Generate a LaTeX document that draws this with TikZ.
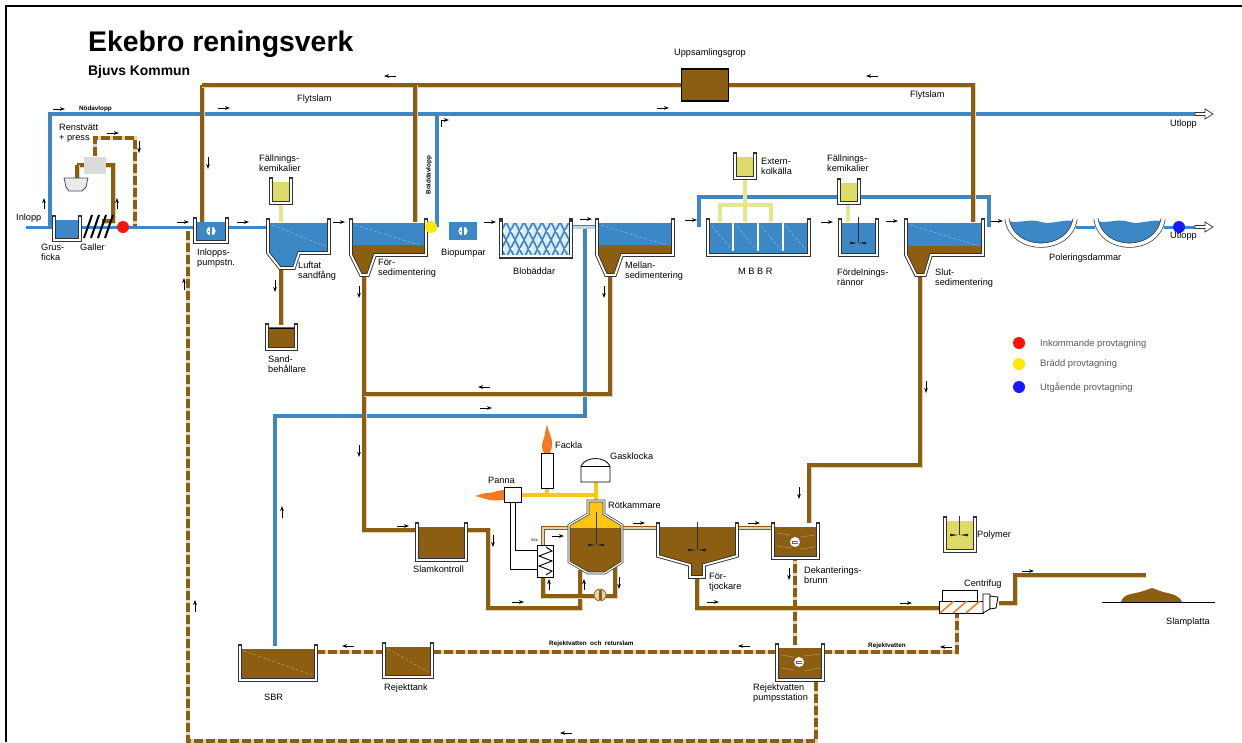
\documentclass[tikz,border=0pt]{standalone}
\usepackage{fontspec}
\setmainfont{Liberation Sans}
\usetikzlibrary{arrows.meta}
\definecolor{wblue}{HTML}{3C88C6}
\definecolor{lblue}{HTML}{BBD6EC}
\definecolor{sbrown}{HTML}{8C5E12}
\definecolor{tanl}{HTML}{E2D2B2}
\definecolor{cyel}{HTML}{DEDA68}
\definecolor{pyel}{HTML}{E8E68C}
\definecolor{gasy}{HTML}{FFC613}
\definecolor{flam}{HTML}{F07B22}
\tikzset{
 lbl/.style={font=\fontsize{9.2}{10}\selectfont,inner sep=0pt,anchor=west,align=left,text=black},
 tiny/.style={font=\fontsize{6.3}{7}\bfseries\selectfont,inner sep=0pt,anchor=west},
 legend/.style={font=\fontsize{9.4}{10}\selectfont,inner sep=0pt,anchor=west,text=black!65},
 bluepipe/.style={draw=wblue,line width=4pt,line join=miter},
 brownpipe/.style={draw=sbrown,line width=4pt,line join=miter,preaction={draw=tanl,line width=5pt}},
 dashpipe/.style={draw=sbrown,line width=4.4pt,dash pattern=on 9pt off 3pt,preaction={draw=tanl,solid,line width=4.4pt}},
 mainthin/.style={draw=wblue,line width=0.8pt,double=white,double distance=1.2pt},
 mainwide/.style={draw=wblue,line width=0.8pt,double=lblue,double distance=3pt},
 mainsolid/.style={draw=wblue,line width=3pt},
 tandouble/.style={draw=sbrown,line width=0.9pt,double=tanl,double distance=1.4pt},
 yelpipe/.style={draw=pyel,line width=4.8pt},
 gaspipe/.style={draw=gasy,line width=4pt},
 wire/.style={draw=black,line width=0.8pt},
 wallout/.style={draw=black!80,line width=3.6pt,line cap=rect,line join=miter},
 wallin/.style={draw=white,line width=1.8pt,line join=miter},
 flowar/.style={draw=black,line width=0.8pt,-{Stealth[length=5pt,width=3.6pt]}},
 outar/.style={draw=black!80,fill=white,line width=0.7pt},
 tankbox/.style={inner sep=0pt,outer sep=0pt,draw=none},
 dot/.style={circle,inner sep=0pt,minimum size=12pt,draw=none},
 hatchw/.style={draw=white,opacity=.45,line width=0.4pt,dash pattern=on 3pt off 2pt},
 mottle/.style={draw=tanl,opacity=.35,line width=0.8pt},
}
\newcommand\lab[5][lbl]{\node[#1] (#2) at (#3,#4) {#5};}
\newcommand\far[4]{\draw[flowar] (#1,#2) -- (#3,#4);}
\newcommand\vbx[5]{\node[tankbox,minimum width={(#4-#2)*1pt},minimum height={(#5-#3)*1pt}] (#1) at ({(#2+#4)/2},{(#3+#5)/2}) {};}
\newcommand\vessel[4]{%
 \begin{scope}\clip #1 -- cycle;
 \fill[#2] (0,#3) rectangle (1242,800);
 \fill[sbrown] (0,#4) rectangle (1242,800);
 \end{scope}
 \draw[wallout] #1; \draw[wallin] #1;}
\newcommand\tank[7]{\vbx{#1}{#2}{#3}{#4}{#5}\vessel{(#2,#3) -- (#2,#5) -- (#4,#5) -- (#4,#3)}{#6}{#3+3}{#7}}
\newcommand\hop[9]{\vbx{#1}{#2}{#3}{#4}{#5}\hopB{#2}{#3}{#4}{#5}{#6}{#7}{#8}{#9}}
\newcommand\hopB[8]{\def\hA{#1}\def\hB{#2}\def\hC{#3}\def\hD{#4}\def\hE{#5}\def\hF{#6}\def\hG{#7}\def\hH{#8}\hopC}
\newcommand\hopC[1]{\vessel{(\hA,\hB) -- (\hA,\hD) -- (\hE,\hH) -- (\hF,\hH) -- (\hG,\hD) -- (\hC,\hD) -- (\hC,\hB)}{wblue}{\hB+3}{#1}
 \draw[hatchw] ({\hA+4},{\hB+5}) -- ({\hC-4},{\hB+26});}
\newcommand\pumpW[2]{\fill[white] (#1,#2) circle (4.6pt);\fill[wblue] (#1-.7,#2-5) rectangle (#1+.7,#2+5);\draw[wblue,line width=.5pt] (#1-1.8,#2) -- (#1-3,#2);}
\newcommand\pumpB[2]{\fill[white] (#1,#2) circle (5pt);\fill[sbrown] (#1-3,#2-1) rectangle (#1+3,#2+2);\fill[white] (#1-2.5,#2+.3) rectangle (#1+2.5,#2+.9);}
\newcommand\mixer[4]{\draw[black!80,line width=.8pt] (#1,#2) -- (#1,#3);
 \fill[black!85] (#1-1,#3) -- (#1-#4,#3-1.3) -- (#1-#4,#3+1.3) -- cycle; \fill[black!85] (#1+1,#3) -- (#1+#4,#3-1.3) -- (#1+#4,#3+1.3) -- cycle;}
\begin{document}
\begin{tikzpicture}[x=1pt,y=-1pt,line cap=butt]
\useasboundingbox (0,0) rectangle (1242,742);
\fill[white] (0,0) rectangle (1242,742);
\draw[black,line width=2pt] (6,742) -- (6,5.5) -- (1242,5.5);
\node[inner sep=0pt,anchor=west,font=\fontsize{28.4}{30}\bfseries\selectfont] (title) at (88,44) {Ekebro reningsverk};
\node[inner sep=0pt,anchor=west,font=\fontsize{13.9}{14}\bfseries\selectfont] (subtitle) at (88,72) {Bjuvs Kommun};

% waypoints
\coordinate (in0) at (26,227); \coordinate (ovTee) at (50,227); \coordinate (ov1) at (50,114); \coordinate (ovEnd) at (1195,114);
\coordinate (brTee) at (437,227); \coordinate (brTop) at (437,114);
\coordinate (tl) at (202,85); \coordinate (tm) at (415,85); \coordinate (tr) at (973,85);
\coordinate (blTee) at (585,229); \coordinate (bl1) at (585,416); \coordinate (bl2) at (275,416);
\coordinate (bpA) at (699,227); \coordinate (bpB) at (699,197); \coordinate (bpC) at (989,197); \coordinate (bpD) at (989,227);
\coordinate (msA) at (610,394); \coordinate (fsA) at (364,394); \coordinate (fsB) at (364,530);
\coordinate (skA) at (488,530); \coordinate (skB) at (488,608); \coordinate (skC) at (580,608);
\coordinate (rkA) at (615,596); \coordinate (rkB) at (543,596);
\coordinate (ssA) at (920,465); \coordinate (ssB) at (809,465);
\coordinate (ftA) at (697,608); \coordinate (ctIn) at (940,608);
\coordinate (cOut) at (999,603); \coordinate (c1) at (1015,603); \coordinate (c2) at (1015,575); \coordinate (c3) at (1146,575);
\coordinate (rjA) at (957,652); \coordinate (rtop) at (795,645);
\coordinate (dashA) at (188,231); \coordinate (dashB) at (188,741); \coordinate (dashC) at (816,741);
\coordinate (gA) at (95,138); \coordinate (gB) at (135,138); \coordinate (gC) at (135,227);
\coordinate (rA) at (113,165); \coordinate (rB) at (113,221); \coordinate (rC) at (102,221);
\coordinate (lA) at (77,165);

% dashed pipes
\draw[dashpipe] (rtop) -- (795,559);
\draw[dashpipe] (dashA) -- (dashB) -- (dashC) -- (816,680);
\draw[dashpipe] (95,156) -- (gA) -- (gB) -- (gC);
\draw[dashpipe] (316,652) -- (383,652);
\draw[dashpipe] (432,652) -- (777,652);
\draw[dashpipe] (823,652) -- (rjA) -- (957,613);

% main water line
\draw[mainsolid] (in0) -- (195,227);
\draw[mainsolid] (227,227) -- (268,227);
\draw[mainthin] (330,227) -- (351,227);
\draw[mainthin] (427,227) -- (449,227);
\draw[mainthin] (477,227) -- (501,227);
\draw[mainwide] (571,227) -- (597,227);
\draw[mainthin] (672,227) -- (708,227);
\draw[mainthin] (809,227) -- (840,227);
\draw[mainthin] (877,227) -- (906,227);
\draw[mainthin] (983,227) -- (1006,227);
\draw[mainsolid] (1076,227) -- (1095,227);
\draw[mainsolid] (1164,227) -- (1195,227);

% blue pipes
\draw[bluepipe] (ovTee) -- (ov1) -- (ovEnd);
\draw[bluepipe] (brTee) -- (brTop);
\draw[bluepipe] (blTee) -- (bl1) -- (bl2) -- (275,646);
\draw[bluepipe] (bpA) -- (bpB) -- (bpC) -- (bpD);

% brown pipes
\draw[brownpipe] (tl) -- (202,223);
\draw[brownpipe] (tl) -- (681,85);
\draw[brownpipe] (tm) -- (415,222);
\draw[brownpipe] (729,85) -- (tr) -- (973,222);
\draw[brownpipe] (281,268) -- (281,325);
\draw[brownpipe] (364,275) -- (fsA) -- (fsB) -- (416,530);
\draw[brownpipe] (610,275) -- (msA) -- (fsA);
\draw[brownpipe] (467,530) -- (skA) -- (skB) -- (skC) -- (580,570);
\draw[brownpipe] (615,562) -- (rkA) -- (rkB) -- (543,577);
\draw[brownpipe] (920,275) -- (ssA) -- (ssB) -- (809,523);
\draw[brownpipe] (697,577) -- (ftA) -- (ctIn);
\draw[brownpipe] (cOut) -- (c1) -- (c2) -- (c3);
\draw[brownpipe] (lA) -- (84,165);
\draw[brownpipe] (lA) -- (77,178);
\draw[brownpipe] (106,165) -- (rA) -- (rB) -- (rC);
\draw[tandouble] (543,545) -- (543,528) -- (570,528);
\draw[tandouble] (622,528) -- (657,528);
\draw[tandouble] (738,528) -- (773,528);

% yellow chemical pipes
\draw[yelpipe] (281,204) -- (281,222);
\draw[yelpipe] (745,179) -- (745,222);
\draw[yelpipe] (720,222) -- (720,205) -- (771,205) -- (771,222);
\draw[yelpipe] (848,204) -- (848,222);
\draw[draw=pyel!80!olive,line width=.8pt,double=white,double distance=1.2pt] (959,551) -- (959,590);
% gas
\draw[gaspipe] (522,495) -- (596,495);
\draw[gaspipe] (547,488) -- (547,495);
\draw[gaspipe] (596,482) -- (596,503);

% inlet group
\tank{grus}{54}{217}{80}{240}{wblue}{999}
\node[inner sep=0pt,minimum width=0pt] (gal) at (93,227) {};
\foreach \i in {0,1,2,3}{\draw[black,line width=2pt] ({84+\i*7},238) -- ({92+\i*7},215);}
\node[dot,fill=red!85!orange] (redd) at (123,227) {};
\node[draw=none,fill=black!14,inner sep=0pt,minimum width=22pt,minimum height=17pt] (press) at (95,165) {};
\draw[black!70,line width=.8pt,fill=black!8] (64,178) -- (88,178) -- (86,187) -- (82,191) -- (69,191) -- (66,187) -- cycle;
\node[inner sep=0pt] (bowl) at (76,184) {};

\tank{inl}{195}{219}{227}{242}{wblue}{999}
\pumpW{211}{231}
\hop{luft}{268}{220}{329}{253}{280}{294}{299}{268}{999}
\vbx{sand}{266}{325}{297}{350}
\vessel{(267,325) -- (267,349) -- (296,349) -- (296,325)}{sbrown}{327}{327}
\draw[black,line width=1pt] (269,328) -- (294,328);
\vessel{(271,179) -- (271,203) -- (291,203) -- (291,179)}{cyel}{182}{999}
\vbx{fk1}{270}{179}{292}{204}

\hop{fsed}{351}{220}{426}{255}{361}{368}{375}{275}{245}
\node[dot,fill=yellow!90!orange] (yeld) at (431,227) {};
\node[tankbox,fill=wblue,minimum width=28pt,minimum height=18pt] (bio) at (463,231) {};
\pumpW{463}{231}
% blob
\vbx{blob}{501}{220}{571}{257}
\begin{scope}
\clip (502,223) rectangle (570,256);
\fill[lblue!50] (500,222) rectangle (572,258);
\foreach \k in {0,...,14}{
 \draw[wblue,line width=1.7pt] ({470+\k*9},258) -- ({488+\k*9},222);
 \draw[wblue,line width=1.7pt] ({488+\k*9},258) -- ({470+\k*9},222);}
\foreach \r in {0,1,2}{\foreach \k in {0,...,8}{\fill[white] ({503.5+\k*9},{231+\r*9}) circle (1.7pt);}}
\end{scope}
\draw[wallout] (501,220) -- (501,257) -- (571,257) -- (571,220);
\draw[draw=white,line width=1.6pt] (501,222) -- (501,256) -- (571,256) -- (571,222);
\hop{msed}{597}{220}{673}{255}{606}{615}{622}{275}{245}
% MBBR
\tank{mbbr}{708}{220}{809}{255}{wblue}{999}
\draw[hatchw] (712,226) -- (732,250); \draw[hatchw] (737,226) -- (756,250); \draw[hatchw] (761,226) -- (781,250); \draw[hatchw] (786,226) -- (806,250);
\foreach \x in {733,758,783}{\draw[black!70,line width=2.6pt] (\x,220) -- (\x,251);\draw[white,line width=1.6pt] (\x,220) -- (\x,251);}
\vessel{(735,154) -- (735,178) -- (755,178) -- (755,154)}{cyel}{157}{999}
\vbx{kol}{734}{153}{756}{179}
\tank{ford}{840}{220}{877}{255}{wblue}{999}
\mixer{858}{217}{243}{8}
\vessel{(839,180) -- (839,203) -- (859,203) -- (859,180)}{cyel}{183}{999}
\vbx{fk2}{838}{180}{860}{204}
\hop{ssed}{906}{220}{983}{255}{916}{925}{931}{275}{246}
% ponds
\vbx{pond1}{1006}{221}{1076}{247}
\fill[wblue] (1008,221) .. controls (1020,224) and (1030,218) .. (1041,222) .. controls (1052,225) and (1062,219) .. (1074,221) .. controls (1069,254) and (1013,254) .. cycle;
\draw[black!80,line width=5pt] (1007,219) .. controls (1012,254) and (1070,254) .. (1075,219);
\draw[white,line width=3.6pt] (1007,219) .. controls (1012,254) and (1070,254) .. (1075,219);
\vbx{pond2}{1095}{221}{1164}{247}
\fill[wblue] (1097,221) .. controls (1108,224) and (1118,218) .. (1129,222) .. controls (1140,225) and (1150,219) .. (1162,221) .. controls (1157,254) and (1101,254) .. cycle;
\draw[black!80,line width=5pt] (1096,219) .. controls (1101,254) and (1158,254) .. (1163,219);
\draw[white,line width=3.6pt] (1096,219) .. controls (1101,254) and (1158,254) .. (1163,219);
\node[dot,fill=blue!90!white] (blud) at (1179,227) {};
% outlet arrows
\foreach \y/\nm in {114/outA,227/outB}{
 \draw[outar] (1195,\y-1.5) -- (1205,\y-1.5) -- (1205,\y-5) -- (1213,\y) -- (1205,\y+5) -- (1205,\y+1.5) -- (1195,\y+1.5) -- cycle;
 \coordinate (\nm) at (1213,\y);}

\node[tankbox,fill=sbrown,draw=black,line width=1.6pt,minimum width=47pt,minimum height=32pt] (upps) at (705,85) {};

% digestion
\node[draw=black,line width=.8pt,fill=white,inner sep=0pt,minimum width=12pt,minimum height=35pt] (fack) at (547,471) {};
\fill[flam] (547,424) .. controls (548,432) and (553,438) .. (552,445) .. controls (552,448) and (551,451) .. (550,453) -- (544,453) .. controls (542,449) and (541,446) .. (543,441) .. controls (545,436) and (545,431) .. cycle;
\draw[black,line width=.8pt,fill=white] (581,482) -- (581,466) .. controls (586,456) and (605,456) .. (610,466) -- (610,482) -- cycle;
\draw[black,line width=.7pt] (581,466) -- (610,466);
\node[inner sep=0pt] (gask) at (596,472) {};
\node[draw=black,line width=.8pt,fill=white,inner sep=0pt,minimum width=17pt,minimum height=15pt] (pann) at (513,495) {};
\fill[flam] (504,490) .. controls (498,490) and (494,493) .. (487,493) .. controls (483,493) and (479,495) .. (475,496) .. controls (481,497) and (484,499) .. (490,500) .. controls (495,501) and (499,500) .. (504,500) -- cycle;
\draw[wire] (515.5,502.5) -- (515.5,550) -- (537,550);
\draw[wire] (510.5,502.5) -- (510.5,569) -- (537,569);
\node[draw=black,line width=.9pt,fill=white,inner sep=0pt,minimum width=16pt,minimum height=32pt] (vvx) at (545,561) {};
\draw[black,line width=.9pt] (546,547) -- (552,551) -- (539,556) -- (552,561) -- (539,566) -- (552,571) -- (546,575);
\node[tiny,font=\fontsize{4.5}{5}\selectfont] (vvxl) at (531,540) {vvx};
\vbx{rot}{568}{500}{623}{574}
\begin{scope}
\clip (569,525) -- (588,514) -- (588,501) -- (604,501) -- (604,514) -- (622,525) -- (622,562) -- (605,573) -- (588,573) -- (569,562) -- cycle;
\fill[gasy] (560,495) rectangle (630,528);
\fill[sbrown] (560,528) rectangle (630,580);
\end{scope}
\draw[draw=black!80,line width=2.6pt,line join=miter] (588,501) -- (604,501) -- (604,514) -- (622,525) -- (622,562) -- (605,573) -- (588,573) -- (569,562) -- (569,525) -- (588,514) -- cycle;
\draw[draw=white,line width=1.2pt,line join=miter] (588,501) -- (604,501) -- (604,514) -- (622,525) -- (622,562) -- (605,573) -- (588,573) -- (569,562) -- (569,525) -- (588,514) -- cycle;
\mixer{596}{512}{545}{8}
\node[circle,fill=tanl,draw=sbrown,line width=.7pt,minimum size=12pt,inner sep=0pt] (rpump) at (600,595) {};
\fill[sbrown] (599,590) rectangle (602,600);

\tank{slk}{417}{524}{466}{560}{sbrown}{527}
\vbx{ftj}{657}{524}{738}{577}
\vessel{(658,524) -- (658,556) -- (690,565) -- (690,577) -- (704,577) -- (704,565) -- (737,556) -- (737,524)}{sbrown}{527}{527}
\mixer{697}{522}{550}{9}
\tank{dek}{773}{524}{818}{558}{sbrown}{527}
\draw[mottle] (777,533) -- (790,535) (800,537) -- (815,535) (777,546) -- (792,548) (800,549) -- (815,547);
\pumpB{795}{542}
\tank{rejp}{777}{645}{823}{680}{sbrown}{648}
\draw[mottle] (781,655) -- (794,657) (804,656) -- (820,654) (781,668) -- (794,670) (804,671) -- (820,668);
\pumpB{799}{662}
\tank{sbr}{240}{646}{316}{680}{sbrown}{649}
\tank{rejt}{384}{644}{432}{677}{sbrown}{647}
\draw[hatchw] (244,651) -- (312,675); \draw[hatchw] (388,649) -- (428,672);

% centrifuge and polymer
\tank{poly}{945}{518}{975}{551}{cyel}{999}
\mixer{959}{516}{535}{9}
\node[draw=black,line width=.8pt,fill=white,inner sep=0pt,minimum width=35pt,minimum height=11pt] (ctop) at (959.5,595.5) {};
\node[draw=black,line width=.8pt,fill=white,inner sep=0pt,minimum width=44pt,minimum height=12pt] (cent) at (961,607) {};
\begin{scope}\clip (939,601) rectangle (983,613);
\foreach \x in {940,953,966}{\draw[flam,line width=1.5pt] (\x,613) -- (\x+14,601);}
\end{scope}
\draw[black,line width=.8pt,fill=white] (983,613) -- (990,609) -- (990,594) -- (983,594) -- cycle;
\draw[black,line width=.8pt,fill=white] (990,596) -- (998,597) -- (996,608) -- (990,609) -- cycle;

% sludge pad
\node[inner sep=0pt] (heap) at (1150,597) {};
\fill[sbrown] (1121,602) .. controls (1123,594) and (1132,594) .. (1140,592) -- (1152,588) -- (1163,592) .. controls (1172,594) and (1179,595) .. (1182,602) -- cycle;
\draw[black,line width=.8pt] (1102,602) -- (1215,602);

% legend
\node[dot,fill=red!85!orange] (legA) at (1019,343) {};
\node[dot,fill=yellow!90!orange] (legB) at (1019,364) {};
\node[dot,fill=blue!90!white] (legC) at (1019,387) {};
\lab[legend]{legAt}{1040}{344}{Inkommande provtagning}
\lab[legend]{legBt}{1040}{364}{Brädd provtagning}
\lab[legend]{legCt}{1040}{388}{Utgående provtagning}

% labels
\lab{t1}{16}{218}{Inlopp}
\lab{t2}{41}{252}{Grus-\\ficka}
\lab{t3}{80}{247}{Galler}
\lab{t4}{59}{133}{Renstvätt\\+ press}
\lab[tiny]{t5}{79}{109}{Nödavlopp}
\lab{t6}{197}{258}{Inlopps-\\pumpstn.}
\lab{t7}{259}{163}{Fällnings-\\kemikalier}
\lab{t8}{298}{271}{Luftat\\sandfång}
\lab{t9}{268}{364}{Sand-\\behållare}
\lab{t10}{378}{268}{För-\\sedimentering}
\lab{t11}{441}{253}{Biopumpar}
\lab{t12}{513}{271}{Blobäddar}
\lab{t13}{625}{271}{Mellan-\\sedimentering}
\lab{t14}{738}{271}{M B B R}
\lab{t15}{761}{166}{Extern-\\kolkälla}
\lab{t16}{827}{163}{Fällnings-\\kemikalier}
\lab{t17}{837}{277}{Fördelnings-\\rännor}
\lab{t18}{935}{278}{Slut-\\sedimentering}
\lab{t19}{1049}{258}{Poleringsdammar}
\lab{t20}{1170}{124}{Utlopp}
\lab{t21}{1170}{236}{Utlopp}
\lab{t22}{297}{99}{Flytslam}
\lab{t23}{910}{95}{Flytslam}
\lab{t24}{674}{53}{Uppsamlingsgrop}
\lab{t25}{555}{445}{Fackla}
\lab{t26}{610}{456}{Gasklocka}
\lab{t27}{488}{480}{Panna}
\lab{t28}{608}{505}{Rötkammare}
\lab{t29}{413}{569}{Slamkontroll}
\lab{t30}{709}{582}{För-\\tjockare}
\lab{t31}{804}{575}{Dekanterings-\\brunn}
\lab{t32}{977}{535}{Polymer}
\lab{t33}{964}{584}{Centrifug}
\lab{t34}{1166}{622}{Slamplatta}
\lab{t35}{753}{693}{Rejektvatten\\pumpsstation}
\lab[tiny]{t36}{549}{644}{Rejektvatten\ \ och\ \ returslam}
\lab[tiny]{t37}{868}{646}{Rejektvatten}
\lab{t38}{384}{688}{Rejekttank}
\lab{t39}{264}{697}{SBR}
\node[tiny,rotate=90,anchor=center] (t40) at (429,175) {Bräddavlopp};

% flow arrows
\far{53}{109}{65}{109}\far{44}{209}{44}{198}\far{107}{133}{119}{133}\far{139}{141}{139}{153}
\far{117}{209}{117}{198}\far{177}{222}{189}{222}\far{237}{222}{249}{222}\far{208}{157}{208}{169}
\far{218}{108}{230}{108}\far{333}{222}{345}{222}\far{275}{280}{275}{292}\far{396}{76}{384}{76}
\far{878}{76}{866}{76}\far{657}{108}{669}{108}
\far{484}{222}{496}{222}\far{580}{219}{592}{219}\far{685}{220}{697}{220}\far{821}{222}{833}{222}
\far{886}{221}{898}{221}\far{991}{221}{1003}{221}\far{359}{286}{359}{298}\far{604}{286}{604}{298}
\far{490}{387}{478}{387}\far{480}{408}{492}{408}\far{359}{445}{359}{457}\far{926}{381}{926}{393}
\far{397}{526}{409}{526}\far{493}{535}{493}{547}\far{512}{602}{524}{602}\far{549}{590}{549}{579}
\far{584}{590}{584}{579}\far{619}{577}{619}{589}\far{552}{536}{564}{536}\far{633}{523}{645}{523}
\far{748}{523}{760}{523}\far{799}{487}{799}{499}\far{789}{568}{789}{580}\far{707}{602}{719}{602}
\far{900}{603}{912}{603}\far{1022}{571}{1034}{571}\far{952}{647}{940}{647}\far{750}{646}{738}{646}
\far{354}{646}{342}{646}\far{282}{518}{282}{506}\far{184}{290}{184}{278}\far{195}{612}{195}{600}
\far{572}{733}{560}{733}
\draw[flowar] (441,127) -- (441,120) -- (449,120);
\end{tikzpicture}
\end{document}
